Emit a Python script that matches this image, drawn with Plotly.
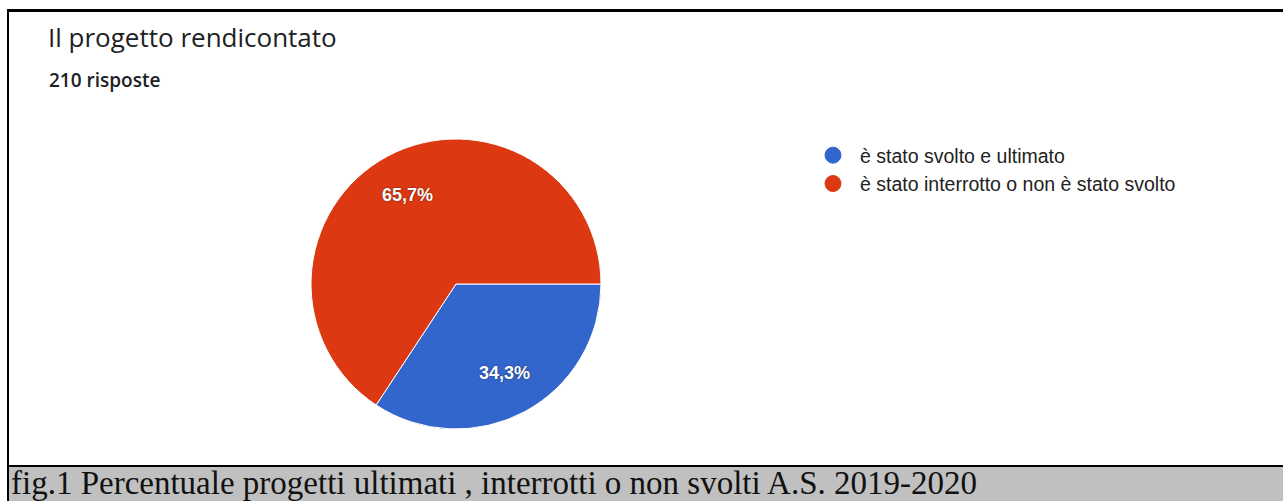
import math
import plotly.graph_objects as go

# ---- data ----
categories = ["è stato svolto e ultimato", "è stato interrotto o non è stato svolto"]
counts = [72, 138]          # 210 risposte -> 34,3% / 65,7%
colors = ["#3366cc", "#dc3912"]
title_text = "Il progetto rendicontato"
subtitle_text = "210 risposte"
caption_text = "fig.1 Percentuale progetti ultimati , interrotti o non svolti A.S. 2019-2020"

W, H = 1283, 501

def px(x):
    return x / W

def py(y):
    return 1 - y / H

fig = go.Figure()

cx, cy, r = 456, 284, 145
start_deg = 90
fig.add_trace(go.Pie(
    labels=categories,
    values=counts,
    sort=False,
    direction="clockwise",
    rotation=start_deg,
    marker=dict(colors=colors, line=dict(color="white", width=1)),
    textinfo="none",
    hoverinfo="skip",
    showlegend=False,
    domain=dict(x=[px(cx - r), px(cx + r)], y=[py(cy + r), py(cy - r)]),
))

# slice labels placed along each slice's mid-angle (derived from the data)
total = sum(counts)
annotations = []
cum = 0.0
for v in counts:
    frac = v / total
    mid = math.radians(start_deg + (cum + frac / 2) * 360)
    cum += frac
    lx = cx + 0.70 * r * math.sin(mid)
    ly = cy - 0.70 * r * math.cos(mid)
    label = f"{frac * 100:.1f}%".replace(".", ",")
    annotations.append(dict(
        text=label, xref="paper", yref="paper", x=px(lx), y=py(ly),
        xanchor="center", yanchor="middle", showarrow=False,
        font=dict(family="Liberation Sans", size=18, color="white", weight="bold",
                  shadow="0px 0px 2px rgba(0,0,0,0.55)"),
    ))

# legend entries with circle markers
for name, col in zip(categories, colors):
    fig.add_trace(go.Scatter(
        x=[None], y=[None], mode="markers", name=name,
        marker=dict(symbol="circle", size=18, color=col,
                    line=dict(color=col, width=1)),
        showlegend=True,
    ))

shapes = [
    # caption bar
    dict(type="rect", xref="paper", yref="paper", x0=px(9), x1=1, y0=0, y1=py(467),
         fillcolor="#c0c0c0", line=dict(width=0), layer="below"),
    # top border
    dict(type="line", xref="paper", yref="paper", x0=px(7), x1=1, y0=py(10.5), y1=py(10.5),
         line=dict(color="black", width=3)),
    # left border
    dict(type="line", xref="paper", yref="paper", x0=px(8), x1=px(8), y0=0, y1=py(9),
         line=dict(color="black", width=2)),
    # separator
    dict(type="line", xref="paper", yref="paper", x0=px(8), x1=1, y0=py(466), y1=py(466),
         line=dict(color="black", width=2)),
]

annotations += [
    dict(text=title_text, xref="paper", yref="paper", x=px(46), y=py(37),
         xanchor="left", yanchor="middle", showarrow=False,
         font=dict(family="Open Sans", size=26, color="#202124")),
    dict(text=subtitle_text, xref="paper", yref="paper", x=px(47), y=py(80),
         xanchor="left", yanchor="middle", showarrow=False,
         font=dict(family="Open Sans", size=19, color="#202124", weight=600)),
    dict(text=caption_text, xref="paper", yref="paper", x=px(9), y=py(483),
         xanchor="left", yanchor="middle", showarrow=False,
         font=dict(family="Liberation Serif", size=33, color="#111111")),
]

fig.update_layout(
    width=W, height=H,
    margin=dict(l=0, r=0, t=0, b=0),
    paper_bgcolor="white",
    plot_bgcolor="rgba(0,0,0,0)",
    xaxis=dict(visible=False),
    yaxis=dict(visible=False),
    shapes=shapes,
    annotations=annotations,
    legend=dict(x=px(806), y=py(136), xanchor="left", yanchor="top",
                itemwidth=44,
                font=dict(family="Liberation Sans", size=19.5, color="#222222"),
                bgcolor="rgba(0,0,0,0)", tracegroupgap=0),
)

fig.write_html("out.html",
               config={"displayModeBar": False},
               post_script="document.body.style.margin='0';document.body.style.overflow='hidden';")
